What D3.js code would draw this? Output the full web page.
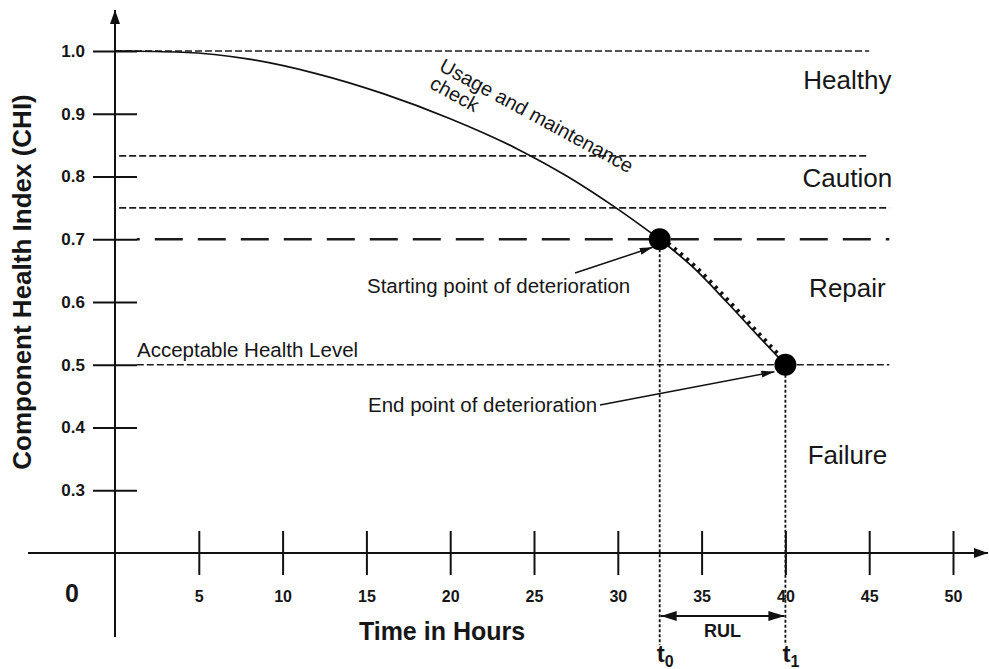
<!DOCTYPE html>
<html>
<head>
<meta charset="utf-8">
<script src="https://cdn.jsdelivr.net/npm/d3@7"></script>
<style>
  body { margin: 0; background: #fff; }
  text { font-family: "Liberation Sans", Arial, sans-serif; fill: #161616; }
</style>
</head>
<body>
<div id="chart-area"></div>
<script>
// values
var xTicks = [5, 10, 15, 20, 25, 30, 35, 40, 45, 50];
var yTicks = [0.3, 0.4, 0.5, 0.6, 0.7, 0.8, 0.9, 1.0];
var healthCurve = [[0, 1.0], [4, 0.998], [8, 0.987], [12, 0.964], [16, 0.932], [20, 0.892],
                   [24, 0.844], [27, 0.800], [30, 0.748], [32.5, 0.70]];
var deterioration = [[32.5, 0.70], [34.5, 0.655], [36.5, 0.600], [38.3, 0.548], [40, 0.50]];
var levels = [1.0, 0.833, 0.75, 0.7, 0.5];
var zones = ["Healthy", "Caution", "Repair", "Failure"];
var t0 = 32.5, t1 = 40;
var startChi = 0.7, endChi = 0.5;

var svg = d3.select("#chart-area")
  .append("svg")
  .attr("width", 989)
  .attr("height", 669);

var x = d3.scaleLinear().domain([0, 50]).range([115, 953]);
var y = d3.scaleLinear().domain([0.2, 1.0]).range([553, 51]);

var defs = svg.append("defs");
function marker(id, len, wid) {
  defs.append("marker")
    .attr("id", id)
    .attr("markerUnits", "userSpaceOnUse")
    .attr("viewBox", "0 0 " + len + " " + wid)
    .attr("refX", len).attr("refY", wid / 2)
    .attr("markerWidth", len).attr("markerHeight", wid)
    .attr("orient", "auto-start-reverse")
    .append("path")
    .attr("d", "M0,0L" + len + "," + (wid / 2) + "L0," + wid + "Z")
    .attr("fill", "#111");
}
marker("axisArrow", 14, 10);
marker("noteArrow", 13, 7);
marker("rulArrow", 16, 10);

// level lines
var levelStyle = [
  { x0: 0, x1: 45, dash: "7,3", w: 1.7 },
  { x0: 0.25, x1: 45, dash: "7,3", w: 1.7 },
  { x0: 0.25, x1: 46.2, dash: "7,3", w: 1.7 },
  { x0: 1.3, x1: 46.2, dash: "28,15", w: 2.6, off: 25 },
  { x0: 1.3, x1: 46.2, dash: "7,3", w: 1.7 }
];
svg.append("g").selectAll("line")
  .data(levels)
  .enter()
  .append("line")
  .attr("x1", (d, i) => x(levelStyle[i].x0))
  .attr("x2", (d, i) => x(levelStyle[i].x1))
  .attr("y1", d => y(d))
  .attr("y2", d => y(d))
  .attr("stroke", "#1c1c1c")
  .attr("stroke-width", (d, i) => levelStyle[i].w)
  .attr("stroke-dasharray", (d, i) => levelStyle[i].dash)
  .attr("stroke-dashoffset", (d, i) => levelStyle[i].off || 0);

// vertical dotted drops to t0 / t1
svg.append("g").selectAll("line")
  .data([[t0, startChi], [t1, endChi]])
  .enter()
  .append("line")
  .attr("x1", d => x(d[0])).attr("x2", d => x(d[0]))
  .attr("y1", d => y(d[1])).attr("y2", 645)
  .attr("stroke", "#111")
  .attr("stroke-width", 1.8)
  .attr("stroke-dasharray", "3,2");

// axes
var yAxis = svg.append("g")
  .attr("class", "y axis")
  .attr("transform", "translate(" + x(0) + ",0)")
  .call(d3.axisLeft(y).tickValues(yTicks).tickSize(22).tickFormat(d3.format(".1f")));
yAxis.select(".domain").remove();
yAxis.selectAll(".tick line").attr("x1", 22).attr("stroke", "#111").attr("stroke-width", 2);
yAxis.selectAll(".tick text")
  .attr("x", -30)
  .attr("font-size", "17px")
  .attr("font-weight", "bold")
  .attr("font-family", "Liberation Sans, Arial, sans-serif")
  .attr("fill", "#161630");

var xAxis = svg.append("g")
  .attr("class", "x axis")
  .attr("transform", "translate(0," + y(0.2) + ")")
  .call(d3.axisBottom(x).tickValues(xTicks).tickSize(22));
xAxis.select(".domain").remove();
xAxis.selectAll(".tick line").attr("y1", -22).attr("stroke", "#111").attr("stroke-width", 2);
xAxis.selectAll(".tick text")
  .attr("y", 49)
  .attr("dy", "0")
  .attr("font-size", "16px")
  .attr("font-weight", "bold")
  .attr("font-family", "Liberation Sans, Arial, sans-serif")
  .attr("fill", "#161630");

svg.append("line")
  .attr("x1", x(0)).attr("x2", x(0))
  .attr("y1", 637).attr("y2", 10)
  .attr("stroke", "#111").attr("stroke-width", 2)
  .attr("marker-end", "url(#axisArrow)");
svg.append("line")
  .attr("x1", 28).attr("x2", 988)
  .attr("y1", y(0.2)).attr("y2", y(0.2))
  .attr("stroke", "#111").attr("stroke-width", 2)
  .attr("marker-end", "url(#axisArrow)");

svg.append("text")
  .attr("x", 72).attr("y", 602)
  .attr("text-anchor", "middle")
  .attr("font-size", "25px").attr("font-weight", "bold")
  .text("0");

// curves
var line = d3.line().x(d => x(d[0])).y(d => y(d[1])).curve(d3.curveMonotoneX);
svg.append("path")
  .attr("d", line(healthCurve))
  .attr("fill", "none").attr("stroke", "#111").attr("stroke-width", 1.7);
svg.append("path")
  .attr("d", line(deterioration))
  .attr("fill", "none").attr("stroke", "#111").attr("stroke-width", 1.7);
svg.append("path")
  .attr("d", line(deterioration))
  .attr("transform", "translate(2,-1)")
  .attr("fill", "none").attr("stroke", "#111").attr("stroke-width", 4)
  .attr("stroke-dasharray", "3,5");

svg.selectAll("circle")
  .data([[t0, startChi], [t1, endChi]])
  .enter()
  .append("circle")
  .attr("cx", d => x(d[0]))
  .attr("cy", d => y(d[1]))
  .attr("r", 11)
  .attr("fill", "#000");

// zone labels
var zoneChi = [0.939, 0.783, 0.608, 0.342];
svg.append("g").selectAll("text")
  .data(zones)
  .enter()
  .append("text")
  .attr("x", x(43.7))
  .attr("y", (d, i) => y(zoneChi[i]))
  .attr("text-anchor", "middle")
  .attr("font-size", "26px")
  .text(d => d);

// annotations
svg.append("text")
  .attr("x", 137).attr("y", 357)
  .attr("font-size", "20.5px")
  .text("Acceptable Health Level");

svg.append("text")
  .attr("x", 367).attr("y", 293)
  .attr("font-size", "20.5px")
  .text("Starting point of deterioration");
svg.append("line")
  .attr("x1", 575).attr("y1", 273)
  .attr("x2", x(t0) - 7).attr("y2", y(startChi) + 8)
  .attr("stroke", "#111").attr("stroke-width", 1.5)
  .attr("marker-end", "url(#noteArrow)");

svg.append("text")
  .attr("x", 368).attr("y", 412)
  .attr("font-size", "20.5px")
  .text("End point of deterioration");
svg.append("line")
  .attr("x1", 600).attr("y1", 405)
  .attr("x2", x(t1) - 11).attr("y2", y(endChi) + 7)
  .attr("stroke", "#111").attr("stroke-width", 1.5)
  .attr("marker-end", "url(#noteArrow)");

var usage = svg.append("text")
  .attr("transform", "translate(438,70) rotate(28.5)")
  .attr("font-size", "20px");
usage.append("tspan").attr("x", 0).attr("y", 0).text("Usage and maintenance");
usage.append("tspan").attr("x", 0).attr("y", 20).text("check");

// RUL
svg.append("line")
  .attr("x1", x(t0) + 1).attr("x2", x(t1) - 1)
  .attr("y1", 616).attr("y2", 616)
  .attr("stroke", "#111").attr("stroke-width", 2)
  .attr("marker-start", "url(#rulArrow)")
  .attr("marker-end", "url(#rulArrow)");
svg.append("text")
  .attr("x", (x(t0) + x(t1)) / 2).attr("y", 637)
  .attr("text-anchor", "middle")
  .attr("font-size", "18px").attr("font-weight", "bold")
  .text("RUL");

svg.append("g").selectAll("text")
  .data([[t0, "0"], [t1, "1"]])
  .enter()
  .append("text")
  .attr("x", d => x(d[0]) - 3)
  .attr("y", 662)
  .attr("font-size", "24px").attr("font-weight", "bold")
  .each(function (d) {
    var t = d3.select(this);
    t.append("tspan").text("t");
    t.append("tspan").attr("dy", 5).attr("font-size", "16px").text(d[1]);
  });

// axis titles
svg.append("text")
  .attr("x", 442).attr("y", 640)
  .attr("text-anchor", "middle")
  .attr("font-size", "25px").attr("font-weight", "bold")
  .text("Time in Hours");

svg.append("text")
  .attr("transform", "translate(31,282) rotate(-90)")
  .attr("text-anchor", "middle")
  .attr("font-size", "26px").attr("font-weight", "bold")
  .text("Component Health Index (CHI)");
</script>
</body>
</html>
